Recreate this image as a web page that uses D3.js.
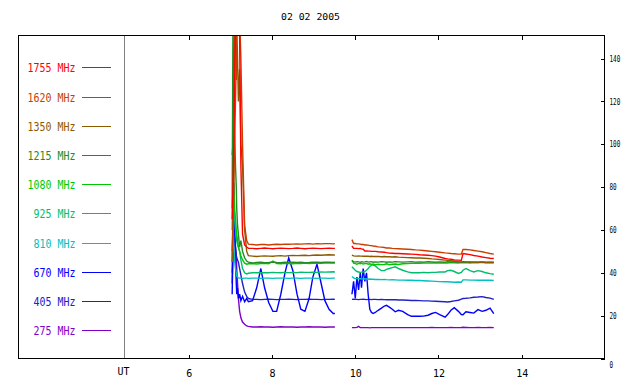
<!DOCTYPE html>
<html>
<head>
<meta charset="utf-8">
<script src="https://cdn.jsdelivr.net/npm/d3@7"></script>
<style>
  html, body { margin: 0; padding: 0; background: #fff; }
  svg { display: block; }
  text { font-family: "DejaVu Sans Mono", "Liberation Mono", monospace; fill: #000; }
</style>
</head>
<body>
<svg id="chart" width="640" height="384"></svg>
<script>
// ---------------- data ----------------
const title = "02 02 2005";
const xTicks = [6, 8, 10, 12, 14];
const yTicks = [0, 20, 40, 60, 80, 100, 120, 140];
const legendLabels = ["1755 MHz", "1620 MHz", "1350 MHz", "1215 MHz", "1080 MHz", "925 MHz", "810 MHz", "670 MHz", "405 MHz", "275 MHz"];
const legendColors = ["#ff0000", "#c84000", "#8c5a00", "#228b22", "#00c800", "#00be6e", "#00c0c0", "#0000ff", "#2020c8", "#8000c8"];

// time (UT hours) of the two observed segments
const times1 = [7.04, 7.06, 7.08, 7.10, 7.12, 7.14, 7.15, 7.17, 7.19, 7.22, 7.25, 7.29, 7.34, 7.39, 7.43, 7.53, 7.63, 7.73, 7.82, 7.92, 8.02, 8.11, 8.21, 8.31, 8.40, 8.50, 8.60, 8.69, 8.79, 8.89, 8.98, 9.08, 9.18, 9.27, 9.37, 9.47, 9.51];
const times2 = [9.92, 9.96, 10.00, 10.04, 10.08, 10.12, 10.15, 10.19, 10.23, 10.27, 10.31, 10.35, 10.39, 10.43, 10.48, 10.55, 10.63, 10.70, 10.75, 10.82, 10.89, 10.96, 11.04, 11.14, 11.26, 11.35, 11.45, 11.55, 11.64, 11.75, 11.84, 11.93, 12.03, 12.16, 12.22, 12.30, 12.38, 12.48, 12.55, 12.59, 12.66, 12.76, 12.85, 12.95, 13.05, 13.14, 13.24, 13.33];

const f1755a = [65, 80, 100, 130, 160, 160, 160, 160, 160, 150, 90, 58, 53, 52, 51.4, 51.4, 51.2, 51.4, 51.6, 51.4, 51.2, 51.4, 51.5, 51.4, 51.3, 51.4, 51.6, 51.4, 51.2, 51.4, 51.5, 51.4, 51.3, 51.4, 51.5, 51.4, 51.4];
const f1755b = [52.5, 51.4, 51.4, 51.4, 51.3, 51.4, 51.2, 51.0, 50.2, 50.2, 50.1, 50.1, 50.0, 50.0, 50.0, 49.8, 49.7, 49.6, 49.4, 49.2, 49.1, 49.0, 49.0, 48.9, 48.8, 48.7, 48.6, 48.4, 48.3, 48.2, 48.0, 47.8, 47.4, 46.7, 46.5, 46.3, 46.0, 45.9, 45.8, 49.0, 48.8, 48.5, 48.1, 47.8, 47.4, 47.1, 46.8, 46.7];

const f1620a = [50, 60, 80, 100, 120, 140, 160, 160, 160, 160, 140, 100, 62, 55, 53.4, 53.2, 53.0, 53.2, 53.2, 53.0, 53.2, 53.3, 53.2, 53.4, 53.3, 53.4, 53.5, 53.4, 53.5, 53.6, 53.4, 53.6, 53.5, 53.6, 53.6, 53.5, 53.6];
const f1620b = [55.5, 53.7, 53.7, 53.5, 53.5, 53.4, 53.2, 53.2, 53.0, 53.0, 52.9, 52.7, 52.7, 52.5, 52.4, 52.1, 52.0, 51.8, 51.6, 51.6, 51.4, 51.3, 51.2, 51.1, 51.0, 50.9, 50.7, 50.6, 50.4, 50.2, 50.0, 49.8, 49.6, 49.3, 49.2, 49.0, 48.9, 48.7, 48.7, 50.9, 50.9, 50.7, 50.4, 50.1, 49.8, 49.4, 49.0, 48.7];

const f1350a = [45, 70, 100, 155, 160, 130, 155, 140, 120, 135, 100, 90, 60, 50, 48, 47.8, 47.6, 47.8, 47.9, 47.8, 47.7, 47.9, 48.0, 47.8, 48.0, 48.1, 48.0, 48.1, 48.2, 48.0, 48.2, 48.3, 48.2, 48.3, 48.4, 48.3, 48.3];
const f1350b = [48.3, 47.9, 47.8, 47.8, 47.9, 47.8, 47.8, 47.7, 47.8, 47.7, 47.7, 47.6, 47.7, 47.6, 47.6, 47.6, 47.5, 47.6, 47.5, 47.5, 47.4, 47.5, 47.3, 47.2, 47.1, 47.0, 46.9, 46.9, 46.8, 46.7, 46.5, 46.4, 46.2, 45.9, 45.8, 45.6, 45.4, 45.2, 45.1, 45.2, 45.1, 45.0, 45.0, 44.9, 44.9, 44.8, 44.8, 44.8];

const f1215a = [70, 160, 120, 105, 90, 80, 70, 62, 58, 52, 55, 50, 47, 45.5, 45, 44.6, 44.8, 44.9, 44.7, 44.8, 45.0, 44.8, 44.7, 44.9, 44.8, 45.0, 44.8, 44.9, 44.7, 44.8, 45.0, 44.9, 44.8, 45.0, 44.9, 44.8, 44.9];
const f1215b = [45.5, 45.2, 45.0, 45.2, 45.1, 44.9, 45.2, 45.0, 45.1, 45.3, 45.0, 45.1, 45.2, 44.9, 45.1, 45.0, 45.2, 45.1, 44.9, 45.1, 45.0, 45.2, 45.1, 45.0, 45.1, 45.2, 45.0, 45.1, 45.0, 45.2, 45.1, 45.0, 45.1, 45.0, 45.2, 45.1, 45.0, 45.1, 44.9, 45.1, 45.0, 45.1, 44.9, 45.0, 45.1, 44.9, 45.0, 44.9];

const f1080a = [95, 100, 80, 70, 65, 60, 58, 55, 52, 50, 48, 46, 44.5, 44, 44.2, 44.3, 44.1, 44.3, 44.4, 44.2, 45.5, 44.3, 44.2, 44.4, 44.3, 44.2, 44.4, 44.3, 44.5, 44.3, 44.4, 44.6, 44.4, 44.5, 44.6, 44.5, 44.6];
const f1080b = [46.0, 44.5, 44.3, 44.0, 44.4, 44.2, 44.5, 44.1, 44.3, 44.4, 44.0, 44.2, 43.9, 44.1, 43.8, 44.0, 43.8, 43.9, 44.2, 43.8, 44.0, 44.1, 43.9, 44.2, 44.3, 44.4, 44.5, 44.4, 44.6, 44.5, 44.6, 44.7, 44.5, 44.7, 44.6, 44.8, 44.7, 44.6, 44.8, 44.7, 44.8, 44.6, 44.8, 44.7, 44.9, 44.7, 44.8, 44.7];

const f925a = [60, 85, 75, 65, 60, 57, 55, 53, 52, 50, 46, 42, 40, 39.5, 39.8, 40.0, 40.1, 40.0, 40.1, 40.0, 40.2, 40.1, 40.0, 40.2, 40.1, 40.2, 40.1, 40.3, 40.2, 40.2, 40.3, 40.2, 40.4, 40.3, 40.4, 40.5, 40.4];
const f925b = [42.8, 42.0, 41.2, 40.6, 40.4, 40.2, 40.3, 40.4, 40.6, 41.2, 42.0, 43.0, 43.6, 43.6, 43.2, 42.0, 41.0, 41.0, 41.6, 42.0, 42.4, 42.8, 42.0, 41.2, 40.4, 40.0, 40.0, 40.0, 40.2, 40.0, 40.2, 40.2, 40.4, 40.4, 41.0, 41.2, 40.6, 39.7, 40.2, 41.2, 42.0, 41.0, 40.4, 41.0, 40.6, 40.0, 39.6, 39.3];

const f810a = [45, 65, 52, 46, 42, 40, 38.5, 38, 37.6, 37.5, 37.5, 37.4, 37.5, 37.5, 37.4, 37.5, 37.5, 37.4, 37.5, 37.5, 37.4, 37.5, 37.5, 37.5, 37.4, 37.5, 37.5, 37.4, 37.5, 37.5, 37.5, 37.4, 37.5, 37.5, 37.4, 37.5, 37.5];
const f810b = [38.3, 37.6, 37.3, 37.3, 37.2, 37.3, 37.2, 37.1, 37.2, 37.1, 37.0, 37.1, 37.0, 37.0, 36.9, 36.9, 36.8, 36.9, 36.8, 36.7, 36.8, 36.7, 36.6, 36.6, 36.5, 36.5, 36.4, 36.4, 36.3, 36.2, 36.1, 36.0, 35.9, 35.8, 35.8, 35.7, 35.6, 35.7, 35.6, 36.7, 36.7, 36.6, 36.6, 36.5, 36.6, 36.5, 36.5, 36.4];

const f670a = [30, 50, 82, 60, 45, 35, 30, 33, 28, 30, 27, 29, 26.5, 28, 26.5, 27, 33, 42, 33, 26, 22, 22, 30, 40, 47, 41, 30, 23, 22, 28, 38, 44, 35, 27, 23, 21, 21];
const f670b = [30, 36, 28, 38, 32, 40, 33, 42, 36, 40, 30, 23, 21.5, 21.0, 21.5, 22.5, 23.5, 24.5, 24.8, 24.0, 23.0, 21.8, 22.5, 22.0, 20.5, 19.7, 19.7, 19.7, 19.8, 20.2, 21.0, 21.5, 20.5, 19.3, 20.5, 22.5, 23.7, 22.0, 20.5, 20.4, 21.8, 21.5, 21.2, 22.8, 22.0, 22.5, 23.5, 20.9];

const f405a = [35, 55, 70, 58, 52, 48, 47, 46, 45, 42, 39, 35, 31, 29, 28, 27.6, 27.6, 27.5, 27.6, 27.7, 27.6, 27.5, 27.6, 27.6, 27.7, 27.6, 27.5, 27.6, 27.6, 27.7, 27.6, 27.6, 27.5, 27.6, 27.6, 27.7, 27.6];
const f405b = [27.6, 27.7, 27.6, 27.6, 27.5, 27.6, 27.6, 27.7, 27.6, 27.5, 27.6, 27.6, 27.5, 27.6, 27.6, 27.5, 27.6, 27.5, 27.4, 27.5, 27.4, 27.4, 27.3, 27.3, 27.2, 27.1, 27.1, 27.0, 26.9, 26.9, 26.8, 26.7, 26.6, 26.5, 26.4, 26.6, 26.9, 27.2, 27.7, 28.0, 28.1, 28.3, 28.6, 28.7, 28.9, 28.5, 28.2, 27.6];

const f275a = [40, 55, 60, 55, 52, 48, 42, 35, 28, 22, 19, 17, 16, 15.2, 15, 14.7, 14.7, 14.8, 14.7, 14.7, 14.6, 14.7, 14.8, 14.7, 14.7, 14.7, 14.6, 14.7, 14.7, 14.8, 14.7, 14.7, 14.7, 14.6, 14.7, 14.7, 14.7];
const f275b = [14.4, 14.4, 14.4, 14.5, 15.0, 14.4, 14.4, 14.4, 14.4, 14.4, 14.4, 14.3, 14.4, 14.4, 14.4, 14.4, 14.4, 14.4, 14.4, 14.4, 14.4, 14.4, 14.4, 14.4, 14.4, 14.4, 14.4, 14.4, 14.4, 14.4, 14.5, 14.4, 14.4, 14.4, 14.4, 14.5, 14.4, 14.4, 14.5, 14.6, 14.5, 14.4, 14.4, 14.5, 14.4, 14.4, 14.5, 14.4];

// series list (drawing order: low frequency first)
const series = [
  { name: "275 MHz",  color: "#8000c8", a: f275a,  b: f275b },
  { name: "405 MHz",  color: "#2020c8", a: f405a,  b: f405b },
  { name: "670 MHz",  color: "#0000ff", a: f670a,  b: f670b },
  { name: "810 MHz",  color: "#00c0c0", a: f810a,  b: f810b },
  { name: "925 MHz",  color: "#00be6e", a: f925a,  b: f925b },
  { name: "1080 MHz", color: "#00c800", a: f1080a, b: f1080b },
  { name: "1215 MHz", color: "#228b22", a: f1215a, b: f1215b },
  { name: "1350 MHz", color: "#8c5a00", a: f1350a, b: f1350b },
  { name: "1620 MHz", color: "#c84000", a: f1620a, b: f1620b },
  { name: "1755 MHz", color: "#ff0000", a: f1755a, b: f1755b }
];

// ---------------- drawing ----------------
const svg = d3.select("#chart");
const frame = { left: 18, top: 35, right: 604, bottom: 358 };

const x = d3.scaleLinear().domain([4.44, 15.98]).range([124, 604]);
const y = d3.scaleLinear().domain([0, 151]).range([358.5, 35]);

svg.append("defs").append("clipPath").attr("id", "clip")
  .append("rect").attr("x", frame.left).attr("y", frame.top)
  .attr("width", frame.right - frame.left).attr("height", frame.bottom - frame.top);

// title
svg.append("text").attr("x", 310.5).attr("y", 20).attr("text-anchor", "middle")
  .style("font-size", "8.5px").attr("textLength", 59).attr("lengthAdjust", "spacingAndGlyphs")
  .text(title);

// data lines
const line = d3.line().defined(d => d.v != null && !isNaN(d.v)).x(d => x(d.t)).y(d => y(d.v));
const gLines = svg.append("g").attr("clip-path", "url(#clip)");
series.forEach(s => {
  [[times1, s.a], [times2, s.b]].forEach(([ts, vs]) => {
    const pts = ts.map((t, i) => ({ t: t, v: vs[i] }));
    gLines.append("path").datum(pts)
      .attr("d", line)
      .attr("fill", "none")
      .attr("stroke", s.color)
      .attr("stroke-width", 1.4)
      .attr("stroke-linejoin", "miter");
  });
});

// UT separator line
svg.append("line").attr("x1", 124.5).attr("x2", 124.5).attr("y1", frame.top).attr("y2", frame.bottom)
  .attr("stroke", "#808080").attr("stroke-width", 1).style("shape-rendering", "crispEdges");

// frame
svg.append("rect").attr("x", frame.left + 0.5).attr("y", frame.top + 0.5)
  .attr("width", frame.right - frame.left).attr("height", frame.bottom - frame.top)
  .attr("fill", "none").attr("stroke", "#000").attr("stroke-width", 1)
  .style("shape-rendering", "crispEdges");

// bottom axis
const gx = svg.append("g").attr("transform", `translate(0,${frame.bottom + 0.5})`)
  .call(d3.axisBottom(x).tickValues(xTicks).tickSize(-4).tickPadding(11).tickFormat(d3.format("d")));
gx.select(".domain").remove();
gx.selectAll("line").attr("stroke", "#000").style("shape-rendering", "crispEdges");
gx.selectAll("text").style("font-size", "10px").style("font-family", "DejaVu Sans Mono");

// top ticks
const gt = svg.append("g").attr("transform", `translate(0,${frame.top + 0.5})`)
  .call(d3.axisTop(x).tickValues(xTicks).tickSize(-4).tickFormat(""));
gt.select(".domain").remove();
gt.selectAll("line").attr("stroke", "#000").style("shape-rendering", "crispEdges");

// UT label
svg.append("text").attr("x", 123.5).attr("y", 374.5).attr("text-anchor", "middle")
  .style("font-size", "10px").text("UT");

// right axis
const gy = svg.append("g").attr("transform", `translate(${frame.right + 0.5},0)`)
  .call(d3.axisRight(y).tickValues(yTicks).tickSize(-4).tickPadding(5).tickFormat(d3.format("d")));
gy.select(".domain").remove();
gy.selectAll("line").attr("stroke", "#000").style("shape-rendering", "crispEdges");
gy.selectAll("text").style("font-size", "8.5px").style("font-family", "DejaVu Sans Mono")
  .each(function(d) { d3.select(this).attr("textLength", String(d).length * 3.6).attr("lengthAdjust", "spacingAndGlyphs"); });
gy.selectAll(".tick").filter(d => d === 0).select("text").attr("dy", "1.0em");

// legend
legendLabels.forEach((lab, i) => {
  const ly = 67.3 + i * 29.22;
  svg.append("line").attr("x1", 82).attr("x2", 111).attr("y1", Math.round(ly) + 0.5).attr("y2", Math.round(ly) + 0.5)
    .attr("stroke", legendColors[i]).attr("stroke-width", 1).style("shape-rendering", "crispEdges");
  svg.append("text").attr("x", 75.5).attr("y", ly + 5).attr("text-anchor", "end")
    .style("font-size", "12px").style("fill", legendColors[i])
    .attr("textLength", lab.length * 6).attr("lengthAdjust", "spacingAndGlyphs")
    .text(lab);
});
</script>
</body>
</html>
